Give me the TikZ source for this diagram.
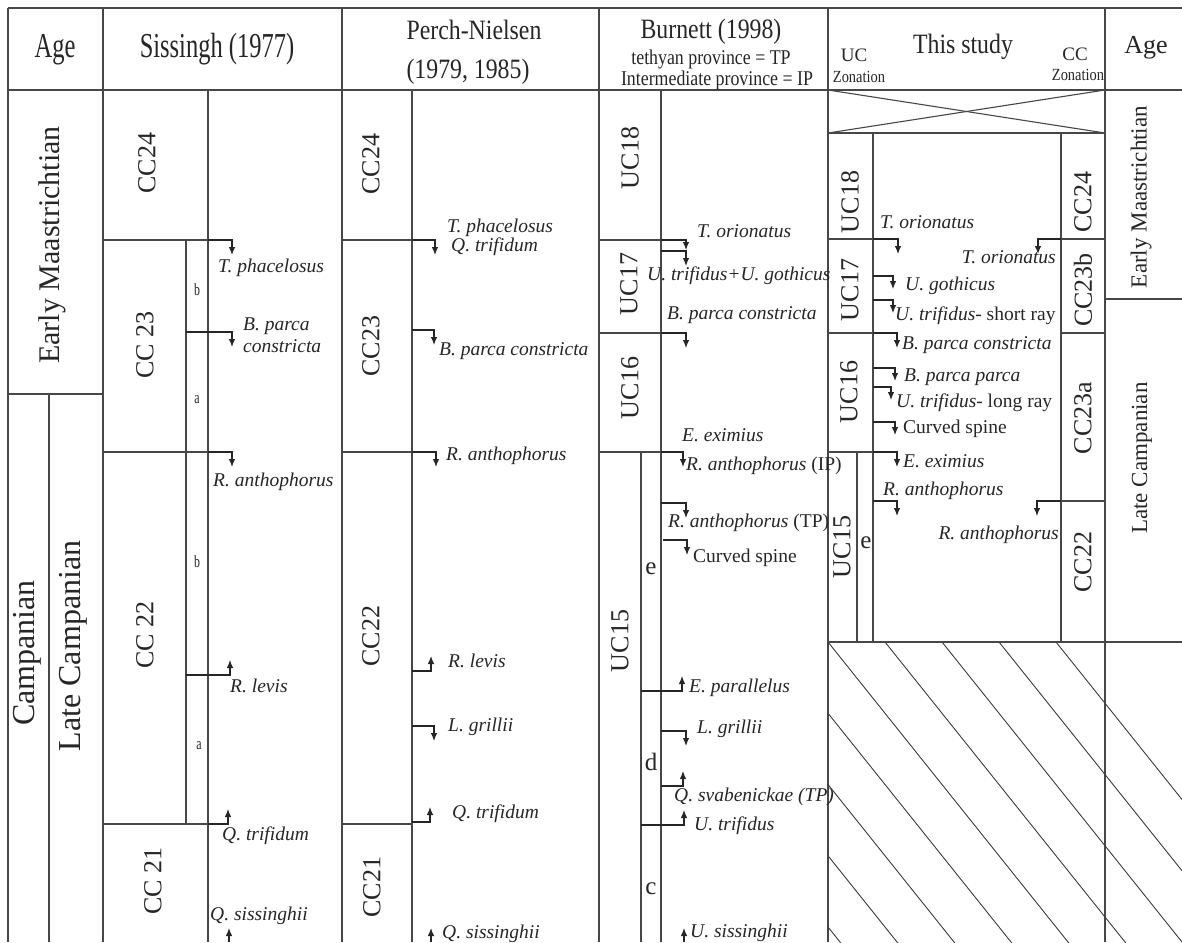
\documentclass[tikz,border=0pt]{standalone}
\usepackage{fontspec}
\setmainfont{Liberation Serif}
\newfontfamily\condA{Liberation Serif}[FakeStretch=0.7]
\newfontfamily\condB{Liberation Serif}[FakeStretch=0.85]
\usetikzlibrary{arrows.meta}

\tikzset{
  rule/.style={draw=black!72, line width=1.1pt},
  hatch/.style={draw=black!75, line width=0.9pt},
  marker/.style={draw=black!85, line width=1.1pt, -{Latex[length=8pt,width=6.5pt]}},
  headA/.style={anchor=base, inner sep=0pt, text=black!85, font=\condA\fontsize{35}{37}\selectfont},
  headB/.style={anchor=base, inner sep=0pt, text=black!85, font=\condB\fontsize{28}{30}\selectfont},
  subhead/.style={anchor=base, inner sep=0pt, text=black!85, font=\condB\fontsize{21}{23}\selectfont},
  zonation/.style={anchor=base, inner sep=0pt, text=black!85, font=\condB\fontsize{17}{19}\selectfont},
  zone/.style={rotate=90, inner sep=0pt, text=black!85, font=\fontsize{26}{28}\selectfont},
  age/.style={rotate=90, inner sep=0pt, text=black!85, font=\fontsize{30}{32}\selectfont},
  taxon/.style={anchor=west, inner sep=0pt, text height=13pt, text depth=4pt, text=black!85, font=\fontsize{19.5}{21}\selectfont\itshape},
  subz/.style={inner sep=0pt, text=black!85, font=\condA\fontsize{17}{19}\selectfont},
  subzb/.style={inner sep=0pt, text=black!85, font=\fontsize{25}{27}\selectfont},
}

% bioevent markers: [drop]{from x}{to x}{y}
\newcommand{\bioDown}[4][15]{\draw[marker] (#2,#4) -| (#3,#4+#1);}
\newcommand{\bioUp}[4][15]{\draw[marker] (#2,#4) -| (#3,#4-#1);}

\begin{document}
\begin{tikzpicture}[x=1pt,y=-1pt]
    \useasboundingbox (0,0) rectangle (1182,942);
    \fill[white] (0,0) rectangle (1182,942);

    % Frame and header
    \draw[rule] (8,8) -- (1182,8);
    \draw[rule] (8,90) -- (1182,90);
    \foreach \xx in {8,103,342,599,828,1105}
        \draw[rule] (\xx,8) -- (\xx,942);

    \node[headA] (hAgeL) at (55,57) {Age};
    \node[headA] (hSis) at (217,57) {Sissingh (1977)};
    \node[headB] (hPN) at (474,40) {Perch-Nielsen};
    \node[headB] (hPNy) at (468,78) {(1979, 1985)};
    \node[headB] (hBur) at (711,38) {Burnett (1998)};
    \node[subhead] (hTP) at (711,64) {tethyan province = TP};
    \node[subhead] (hIP) at (717,85) {Intermediate province = IP};
    \node[headB] (hThis) at (963,53) {This study};
    \node[anchor=base, inner sep=0pt, text=black!85, font=\fontsize{19}{21}\selectfont] (hUC) at (854,62) {UC};
    \node[zonation] (hUCz) at (859,82) {Zonation};
    \node[anchor=base, inner sep=0pt, text=black!85, font=\fontsize{19}{21}\selectfont] (hCC) at (1075,60) {CC};
    \node[zonation] (hCCz) at (1078,81) {Zonation};
    \node[anchor=base, inner sep=0pt, text=black!85, font=\fontsize{26}{28}\selectfont] (hAgeR) at (1146,53) {Age};

    % Age (left)
    \draw[rule] (8,394) -- (103,394);
    \draw[rule] (49,394) -- (49,942);
    \node[age] (ageEM) at (52,245) {Early Maastrichtian};
    \node[age, font=\fontsize{32}{34}\selectfont] (ageCa) at (27,653) {Campanian};
    \node[age, font=\fontsize{32}{34}\selectfont] (ageLC) at (73,646) {Late Campanian};

    % Sissingh (1977)
    \draw[rule] (208,90) -- (208,942);
    \draw[rule] (103,240) -- (208,240);
    \draw[rule] (186,240) -- (186,824);
    \draw[rule] (103,452) -- (208,452);
    \draw[rule] (103,824) -- (208,824);
    \node[zone] (sCC24) at (147,163) {CC24};
    \node[zone] (sCC23) at (145,345) {CC 23};
    \node[zone] (sCC22) at (145,635) {CC 22};
    \node[zone] (sCC21) at (153,881) {CC 21};
    \node[subz] (sB23) at (197,290) {b};
    \node[subz] (sA23) at (197,400) {a};
    \node[subz] (sB22) at (197,562) {b};
    \node[subz] (sA22) at (199,746) {a};
    \bioDown{208}{232}{240}
    \bioDown{186}{232}{332}
    \bioDown{208}{232}{452}
    \bioUp{186}{230}{675}
    \bioUp{208}{228}{824}
    \draw[marker] (229,942) -- (229,928);
    \node[taxon] (sTpha) at (218,268) {T. phacelosus};
    \node[taxon] (sBpa) at (243,326) {B. parca};
    \node[taxon] (sBcon) at (243,348) {constricta};
    \node[taxon] (sRant) at (213,482) {R. anthophorus};
    \node[taxon] (sRlev) at (230,688) {R. levis};
    \node[taxon] (sQtri) at (222,836) {Q. trifidum};
    \node[taxon] (sQsis) at (210,916) {Q. sissinghii};

    % Perch-Nielsen (1979, 1985)
    \draw[rule] (412,90) -- (412,942);
    \draw[rule] (342,240) -- (412,240);
    \draw[rule] (342,452) -- (412,452);
    \draw[rule] (342,824) -- (412,824);
    \node[zone] (pCC24) at (371,164) {CC24};
    \node[zone] (pCC23) at (371,346) {CC23};
    \node[zone] (pCC22) at (371,636) {CC22};
    \node[zone] (pCC21) at (372,887) {CC21};
    \bioDown{412}{435}{240}
    \bioDown{412}{434}{330}
    \bioDown{412}{436}{452}
    \bioUp{412}{431}{671}
    \bioDown{412}{434}{726}
    \bioUp{412}{430}{822}
    \draw[marker] (431,942) -- (431,928);
    \node[taxon] (pTpha) at (447,228) {T. phacelosus};
    \node[taxon] (pQtri) at (451,247) {Q. trifidum};
    \node[taxon] (pBpc) at (439,351) {B. parca constricta};
    \node[taxon] (pRant) at (446,456) {R. anthophorus};
    \node[taxon] (pRlev) at (448,663) {R. levis};
    \node[taxon] (pLgri) at (448,727) {L. grillii};
    \node[taxon] (pQtrib) at (452,814) {Q. trifidum};
    \node[taxon] (pQsis) at (442,934) {Q. sissinghii};

    % Burnett (1998)
    \draw[rule] (661,90) -- (661,942);
    \draw[rule] (641,452) -- (641,942);
    \draw[rule] (599,240) -- (661,240);
    \draw[rule] (599,333) -- (661,333);
    \draw[rule] (599,452) -- (661,452);
    \node[zone] (bUC18) at (630,158) {UC18};
    \node[zone] (bUC17) at (629,284) {UC17};
    \node[zone] (bUC16) at (630,388) {UC16};
    \node[zone] (bUC15) at (620,641) {UC15};
    \node[subzb] (bE) at (651,569) {e};
    \node[subzb] (bD) at (651,762) {d};
    \node[subzb] (bC) at (651,889) {c};
    \bioDown[10]{661}{686}{240}
    \bioDown{661}{686}{251}
    \bioDown{661}{686}{333}
    \bioDown{661}{683}{452}
    \bioDown{661}{686}{503}
    \bioDown{663}{687}{540}
    \bioUp{641}{682}{691}
    \bioDown{661}{686}{731}
    \bioUp{661}{683}{786}
    \bioUp{641}{684}{825}
    \draw[marker] (684,942) -- (684,928);
    \node[taxon] (bTori) at (697,233) {T. orionatus};
    \node[taxon] (bUtg) at (647,276) {U. trifidus+U. gothicus};
    \node[taxon] (bBpc) at (667,315) {B. parca constricta};
    \node[taxon] (bEexi) at (682,437) {E. eximius};
    \node[taxon] (bRantI) at (686,466) {R. anthophorus \textup{(IP)}};
    \node[taxon] (bRantT) at (668,523) {R. anthophorus \textup{(TP)}};
    \node[taxon] (bCurv) at (693,558) {\textup{Curved spine}};
    \node[taxon] (bEpar) at (689,688) {E. parallelus};
    \node[taxon] (bLgri) at (697,729) {L. grillii};
    \node[taxon] (bQsva) at (674,797) {Q. svabenickae (TP)};
    \node[taxon] (bUtri) at (694,826) {U. trifidus};
    \node[taxon] (bUsis) at (690,933) {U. sissinghii};

    % This study
    \draw[rule] (828,90) -- (1105,133);
    \draw[rule] (828,133) -- (1105,90);
    \draw[rule] (828,133) -- (1105,133);
    \draw[rule] (873,133) -- (873,642);
    \draw[rule] (1061,133) -- (1061,642);
    \draw[rule] (857,452) -- (857,642);
    \draw[rule] (828,239) -- (873,239);
    \draw[rule] (828,333) -- (873,333);
    \draw[rule] (828,452) -- (873,452);
    \draw[rule] (1061,239) -- (1105,239);
    \draw[rule] (1061,333) -- (1105,333);
    \draw[rule] (1061,501) -- (1105,501);
    \node[zone] (tUC18) at (850,202) {UC18};
    \node[zone] (tUC17) at (850,290) {UC17};
    \node[zone] (tUC16) at (849,392) {UC16};
    \node[zone] (tUC15) at (842,547) {UC15};
    \node[subzb] (tE) at (866,543) {e};
    \node[zone] (tCC24) at (1083,202) {CC24};
    \node[zone] (tCC23b) at (1083,290) {CC23b};
    \node[zone] (tCC23a) at (1083,418) {CC23a};
    \node[zone] (tCC22) at (1083,562) {CC22};
    \bioDown{873}{898}{239}
    \draw[marker] (1061,239) -| (1038,254);
    \bioDown[13]{873}{893}{276}
    \bioDown[13]{873}{893}{300}
    \bioDown{873}{897}{333}
    \bioDown[13]{873}{895}{368}
    \bioDown[13]{873}{891}{387}
    \bioDown[13]{873}{895}{422}
    \bioDown{873}{897}{452}
    \bioDown{873}{897}{501}
    \draw[marker] (1061,501) -| (1037,516);
    \node[taxon] (tTori) at (880,224) {T. orionatus};
    \node[taxon, anchor=east] (tToriR) at (1056,259) {T. orionatus};
    \node[taxon] (tUgot) at (905,286) {U. gothicus};
    \node[taxon] (tUtrS) at (895,316) {U. trifidus\textup{- short ray}};
    \node[taxon] (tBpc) at (902,345) {B. parca constricta};
    \node[taxon] (tBpp) at (904,377) {B. parca parca};
    \node[taxon] (tUtrL) at (896,403) {U. trifidus\textup{- long ray}};
    \node[taxon] (tCurv) at (903,429) {\textup{Curved spine}};
    \node[taxon] (tEexi) at (903,463) {E. eximius};
    \node[taxon] (tRant) at (883,491) {R. anthophorus};
    \node[taxon, anchor=east] (tRantR) at (1059,535) {R. anthophorus};

    % Age (right)
    \draw[rule] (1105,299) -- (1182,299);
    \node[age, font=\fontsize{23}{25}\selectfont] (ageEMr) at (1141,197) {Early Maastrichtian};
    \node[age, font=\fontsize{23}{25}\selectfont] (ageLCr) at (1142,458) {Late Campanian};

    % Hiatus
    \draw[rule] (828,642) -- (1182,642);
    \begin{scope}
        \clip (828,642) rectangle (1182,942);
        \foreach \k in {-5,...,4}
            \draw[hatch] (828+57*\k,642) -- ++(320,400);
    \end{scope}
\end{tikzpicture}
\end{document}
